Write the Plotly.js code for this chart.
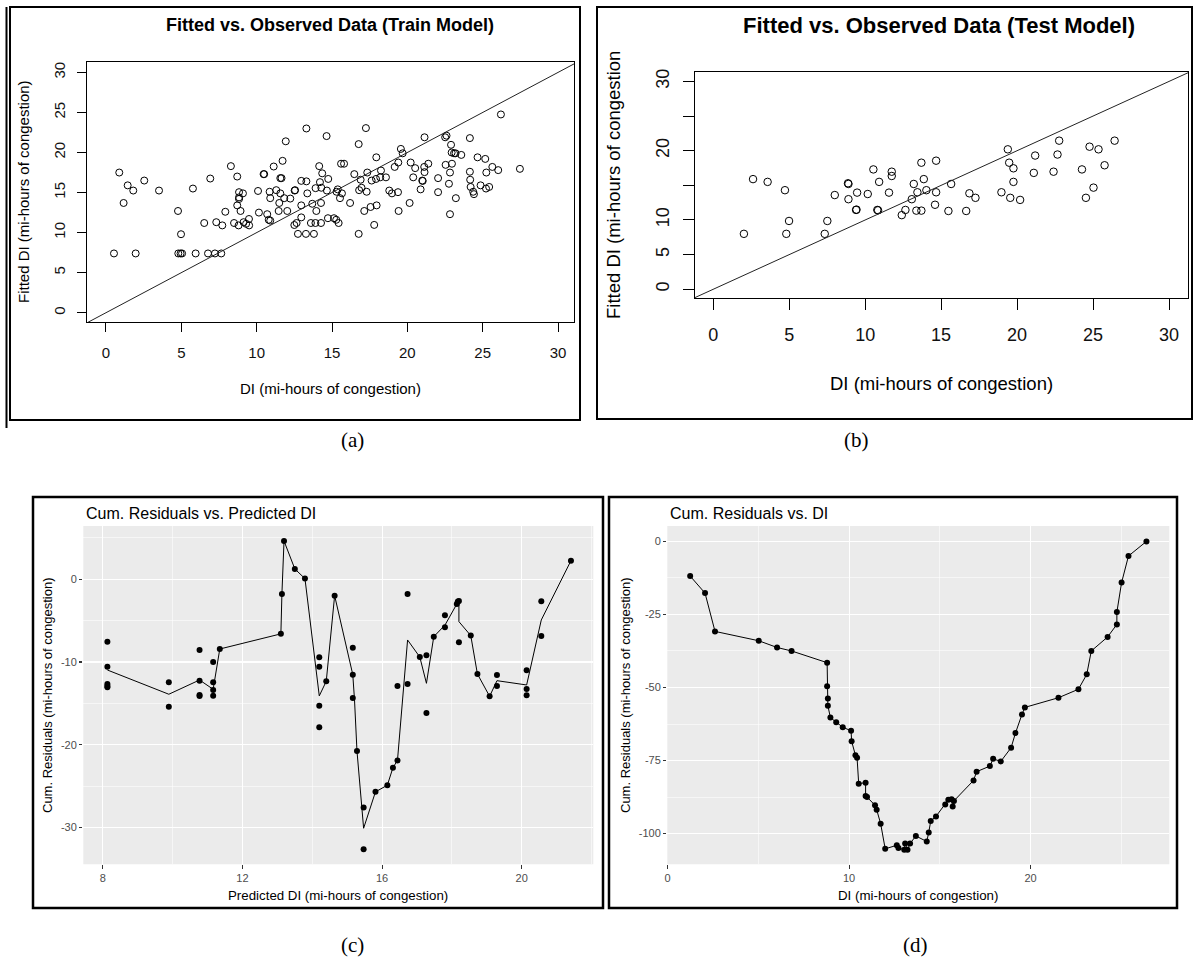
<!DOCTYPE html>
<html>
<head>
<meta charset="utf-8">
<script src="https://cdn.plot.ly/plotly-3.0.1.min.js"></script>
<style>html,body{margin:0;padding:0;background:#fff;}#chart{width:1195px;height:967px;}</style>
</head>
<body>
<div id="chart"></div>
<script>
// ---------- Panel (a): Train model, observed DI vs fitted DI ----------
const trainObserved = [0.88,1.44,1.81,1.17,2.54,3.52,0.53,1.97,4.78,4.98,4.8,4.95,5.05,5.95,5.77,6.77,7.23,7.65,6.92,7.92,6.52,7.32,7.72,8.29,8.71,8.83,9.09,8.83,8.83,8.71,8.93,8.5,8.8,9.13,9.3,9.5,9.49,10.09,10.15,10.7,10.8,10.9,10.46,10.5,11.13,11.72,11.93,13.3,14.64,11.57,11.65,10.86,11.3,11.57,10.9,11.5,11.83,12.23,12.52,12.55,11.46,12.03,12.96,13.3,14.15,14.35,14.75,14.2,13.91,14.29,14.66,13.36,12.96,13.69,14.27,13.96,12.96,12.65,12.5,13.6,13.9,14.27,14.73,12.74,13.27,13.8,
  17.25,16.77,15.6,15.8,16.48,16.9,17.34,17.94,18.25,17.63,17.92,18.2,18.58,15.38,15.66,15.3,15.53,16.8,16.96,17.3,16.2,17.14,17.56,17.96,15.13,15.28,15.44,16.77,17.8,19.42,20.15,18.8,18.98,19.38,19.16,19.4,19.57,19.69,20.22,20.52,20.39,21.12,21.14,21.39,20.99,21.02,20.88,21.14,22.04,22.04,22.51,22.6,22.9,22.94,23.1,23.2,23.58,22.54,22.96,22.83,22.76,23.22,22.83,24.15,24.66,25.17,24.15,24.17,24.2,24.37,24.42,24.86,25.22,25.43,25.24,25.64,26.03,26.21,27.47];
const trainFitted = [17.5,15.9,15.25,13.7,16.5,15.25,7.4,7.4,12.7,9.8,7.4,7.4,7.4,7.4,15.5,7.4,7.4,7.4,16.75,12.6,11.2,11.3,10.9,18.3,17.0,15.05,14.9,14.2,14.4,13.4,12.7,11.2,10.9,11.3,11.1,10.9,11.7,15.2,12.5,12.3,11.6,11.5,17.3,17.3,18.25,18.96,21.4,23.0,22.05,16.8,16.8,15.1,15.3,14.9,14.3,13.7,14.3,14.25,15.25,15.3,12.7,12.7,16.46,16.4,18.3,17.4,16.7,16.3,15.55,15.6,15.25,14.9,13.4,13.6,13.7,12.7,11.9,11.2,10.95,11.2,11.2,11.2,11.8,9.84,9.84,9.84,
  23.05,21.05,18.6,18.6,17.3,16.6,17.5,19.4,17.75,16.5,16.7,16.9,16.9,15.4,14.9,15.1,14.3,15.3,15.6,15.1,13.7,12.7,13.2,13.4,11.8,11.6,11.2,9.84,10.96,12.7,13.7,15.25,14.9,15.05,18.2,18.75,20.45,19.9,18.75,18.05,16.9,18.2,17.55,18.6,16.5,16.45,15.4,21.9,16.8,15.05,21.9,22.1,20.96,20.0,19.9,19.9,19.7,18.46,18.6,17.5,16.1,14.3,12.3,21.8,19.4,19.2,17.6,16.6,15.7,15.1,14.8,15.9,15.5,15.7,17.5,18.2,17.8,24.75,17.96];

// ---------- Panel (b): Test model ----------
const testObserved = [2.02,2.62,3.58,4.72,4.81,4.99,7.34,7.51,8.0,8.87,8.9,8.9,9.47,9.4,9.43,10.17,10.54,10.92,10.8,10.85,11.75,11.75,11.57,12.41,12.65,13.07,13.2,13.44,13.37,13.7,13.86,13.7,14.03,14.67,14.67,14.6,15.48,15.66,16.65,16.86,17.26,18.97,19.55,20.2,19.39,19.48,19.76,19.76,21.19,21.1,22.4,22.66,22.77,24.27,24.53,25.03,24.77,25.36,25.76,26.42];
const testFitted = [8.0,15.9,15.5,14.3,8.0,9.86,8.0,9.86,13.6,15.3,15.2,13.0,13.95,11.45,11.5,13.75,17.3,15.5,11.45,11.4,16.97,16.35,13.95,10.7,11.45,13.0,15.2,14.0,11.35,11.35,15.9,18.27,14.3,18.56,14.0,12.2,11.3,15.2,11.3,13.85,13.2,14.0,13.2,12.9,20.2,18.27,17.46,15.5,19.3,16.8,16.97,19.45,21.45,17.3,13.2,14.67,20.58,20.2,17.9,21.45];

// reference line y = x
const identityLine = [-5, 35];

// ---------- Panel (c): cumulative residuals vs predicted DI ----------
const predDI = [8.13,8.13,8.13,8.13,8.13,9.89,9.89,10.77,10.77,10.77,10.77,11.16,11.16,11.16,11.16,11.35,13.1,13.13,13.19,13.5,13.79,14.2,14.2,14.2,14.2,14.4,14.64,15.16,15.16,15.16,15.28,15.47,15.47,15.81,16.15,16.31,16.44,16.44,16.73,16.73,17.08,17.27,17.27,17.48,17.8,17.8,18.14,18.17,18.2,18.2,18.54,18.73,19.08,19.29,19.29,20.14,20.14,20.14,20.56,20.56,21.41];
const predCumRes = [-7.54,-10.57,-12.66,-12.9,-13.06,-12.46,-15.4,-8.55,-12.26,-14.0,-14.1,-10.0,-12.46,-13.4,-14.07,-8.43,-6.6,-1.78,4.63,1.25,0.08,-9.43,-10.57,-15.28,-17.9,-12.33,-1.98,-8.27,-11.53,-14.35,-20.76,-27.6,-32.65,-25.7,-24.9,-22.78,-21.9,-12.9,-1.78,-12.66,-9.4,-9.2,-16.17,-6.94,-4.36,-5.8,-2.99,-2.7,-2.62,-7.62,-6.81,-11.45,-14.15,-11.57,-12.9,-11.0,-13.26,-14.03,-2.66,-6.86,2.25];
const predLineDI = [8.13,9.89,10.77,11.16,11.35,13.1,13.13,13.19,13.5,13.79,14.2,14.4,14.64,15.16,15.21,15.28,15.47,15.81,16.15,16.31,16.44,16.73,17.08,17.27,17.48,17.8,18.14,18.2,18.2,18.54,18.73,19.08,19.29,20.14,20.56,21.41];
const predLineRes = [-10.97,-13.9,-12.18,-13.3,-8.43,-6.6,-1.78,4.63,1.25,0.08,-14.1,-12.33,-1.98,-11.53,-14.6,-20.76,-30.1,-25.7,-24.9,-22.78,-21.9,-7.34,-9.4,-12.58,-6.94,-5.55,-2.99,-2.62,-5.12,-6.81,-11.45,-14.15,-12.26,-12.78,-4.92,2.25];

// ---------- Panel (d): cumulative residuals vs DI ----------
const obsDI = [1.24,2.06,2.61,5.02,6.03,6.83,8.79,8.79,8.83,8.83,8.97,9.29,9.65,10.11,10.14,10.35,10.44,10.53,10.91,10.91,10.99,11.43,11.52,11.74,11.99,12.63,12.72,13.04,13.09,13.22,13.36,13.68,14.28,14.39,14.5,14.79,15.3,15.47,15.65,15.71,15.78,16.86,17.03,17.76,17.94,18.36,18.93,19.17,19.53,19.69,21.54,22.64,23.1,23.35,24.25,24.76,24.76,25.02,25.4,26.39];
const obsCumRes = [-11.87,-17.7,-30.8,-34.0,-36.3,-37.5,-41.5,-49.6,-53.8,-56.2,-60.3,-61.9,-63.6,-64.8,-68.4,-73.2,-74.0,-82.9,-82.55,-87.1,-87.5,-90.3,-91.8,-96.6,-105.2,-104.0,-104.9,-105.5,-103.4,-105.5,-103.4,-100.8,-102.7,-99.6,-95.7,-94.1,-90.0,-88.4,-88.2,-90.7,-88.8,-81.8,-78.8,-76.9,-74.4,-75.3,-70.6,-65.6,-59.2,-56.8,-53.5,-50.6,-45.5,-37.5,-32.7,-28.4,-24.2,-14.1,-5.0,0.0];

// tick values / labels
const scatterTicks = [0,5,10,15,20,25,30];
const testYTickText = ['0','5','10','','20','','30'];
const predTicks = [8,12,16,20];
const predMinor = [10,14,18,22];
const predYTicks = [-30,-20,-10,0];
const predYTickText = ['-30','-20','-10','0'];
const predYMinor = [-25,-15,-5,5];
const obsTicks = [0,10,20];
const obsMinor = [5,15,25];
const obsYTicks = [-100,-75,-50,-25,0];
const obsYTickText = ['-100','-75','-50','-25','0'];
const obsYMinor = [-87.5,-62.5,-37.5,-12.5];

// ---------- layout helpers (pixel -> paper) ----------
const W = 1195, H = 967;
const fx = p => p / W;
const fy = p => 1 - p / H;
const SANS = 'Liberation Sans, Arial, sans-serif';
const SERIF = 'Liberation Serif, Times New Roman, serif';

const openCircle = size => ({symbol: 'circle-open', size: size, color: '#000', line: {width: 1, color: '#000'}});

const traces = [
  {x: trainObserved, y: trainFitted, xaxis: 'x', yaxis: 'y', type: 'scatter', mode: 'markers', marker: openCircle(7)},
  {x: identityLine, y: identityLine, xaxis: 'x', yaxis: 'y', type: 'scatter', mode: 'lines', line: {color: '#222', width: 1}},
  {x: testObserved, y: testFitted, xaxis: 'x2', yaxis: 'y2', type: 'scatter', mode: 'markers', marker: openCircle(7.5)},
  {x: identityLine, y: identityLine, xaxis: 'x2', yaxis: 'y2', type: 'scatter', mode: 'lines', line: {color: '#222', width: 1}},
  {x: predLineDI, y: predLineRes, xaxis: 'x3', yaxis: 'y3', type: 'scatter', mode: 'lines', line: {color: '#000', width: 1}},
  {x: predDI, y: predCumRes, xaxis: 'x3', yaxis: 'y3', type: 'scatter', mode: 'markers', marker: {color: '#000', size: 6}},
  {x: obsDI, y: obsCumRes, xaxis: 'x4', yaxis: 'y4', type: 'scatter', mode: 'lines+markers', line: {color: '#000', width: 1}, marker: {color: '#000', size: 6}}
];

function baseAxis(domain, range, ticks, size, ticklen) {
  return {
    domain: domain, range: range, tickvals: ticks, ticks: 'outside', ticklen: ticklen, tickwidth: 1,
    tickcolor: '#000', showline: true, mirror: true, linecolor: '#000', linewidth: 1,
    showgrid: false, zeroline: false, tickfont: {family: SANS, size: size, color: '#111'}, fixedrange: true
  };
}
function ggAxis(domain, range, ticks, minor) {
  return {
    domain: domain, range: range, tickvals: ticks, ticks: 'outside', ticklen: 3.3, tickwidth: 1.1,
    tickcolor: '#333', showline: false, showgrid: true, gridcolor: '#fff', gridwidth: 1.1,
    zeroline: false, tickfont: {family: SANS, size: 11, color: '#4d4d4d'}, fixedrange: true,
    minor: {tickvals: minor, showgrid: true, gridcolor: '#fff', gridwidth: 0.55, ticks: ''}
  };
}

const layout = {
  width: W, height: H, margin: {l: 0, r: 0, t: 0, b: 0},
  paper_bgcolor: '#fff', plot_bgcolor: '#fff', showlegend: false,
  xaxis: Object.assign(baseAxis([fx(87), fx(574)], [-1.26, 31.06], scatterTicks, 15, 9), {anchor: 'y', ticklabelstandoff: 8}),
  yaxis: Object.assign(baseAxis([fy(322), fy(62)], [-1.16, 31.3], scatterTicks, 15, 9), {anchor: 'x', tickangle: -90, ticklabelstandoff: 6}),
  xaxis2: Object.assign(baseAxis([fx(695), fx(1188)], [-1.2, 31.25], scatterTicks, 18, 11), {anchor: 'y2', ticklabelstandoff: 9}),
  yaxis2: Object.assign(baseAxis([fy(298), fy(72)], [-1.26, 31.36], scatterTicks, 18, 11), {anchor: 'x2', tickangle: -90, ticktext: testYTickText, ticklabelstandoff: 7}),
  xaxis3: Object.assign(ggAxis([fx(83.3), fx(593.3)], [7.44, 22.05], predTicks, predMinor), {anchor: 'y3'}),
  yaxis3: Object.assign(ggAxis([fy(864.3), fy(526)], [-34.46, 6.44], predYTicks, predYMinor), {anchor: 'x3', ticktext: predYTickText}),
  xaxis4: Object.assign(ggAxis([fx(667.3), fx(1169.3)], [-0.02, 27.65], obsTicks, obsMinor), {anchor: 'y4'}),
  yaxis4: Object.assign(ggAxis([fy(864.3), fy(526)], [-110.5, 5.27], obsYTicks, obsYMinor), {anchor: 'x4', ticktext: obsYTickText}),
  shapes: [
    {type: 'rect', xref: 'x3 domain', yref: 'y3 domain', x0: 0, x1: 1, y0: 0, y1: 1, fillcolor: '#ebebeb', line: {width: 0}, layer: 'below'},
    {type: 'rect', xref: 'x4 domain', yref: 'y4 domain', x0: 0, x1: 1, y0: 0, y1: 1, fillcolor: '#ebebeb', line: {width: 0}, layer: 'below'},
    {type: 'rect', xref: 'paper', yref: 'paper', x0: fx(10), x1: fx(580), y0: fy(420), y1: fy(7), line: {color: '#000', width: 2}},
    {type: 'line', xref: 'paper', yref: 'paper', x0: fx(6.5), x1: fx(6.5), y0: fy(428), y1: fy(7), line: {color: '#000', width: 2}},
    {type: 'rect', xref: 'paper', yref: 'paper', x0: fx(597), x1: fx(1192), y0: fy(419), y1: fy(7), line: {color: '#000', width: 2}},
    {type: 'rect', xref: 'paper', yref: 'paper', x0: fx(33), x1: fx(603), y0: fy(908), y1: fy(497), line: {color: '#000', width: 2.5}},
    {type: 'rect', xref: 'paper', yref: 'paper', x0: fx(609), x1: fx(1177), y0: fy(908), y1: fy(497), line: {color: '#000', width: 2.5}}
  ],
  annotations: []
};

function txt(text, px, py, size, opts) {
  return Object.assign({
    text: text, xref: 'paper', yref: 'paper', x: fx(px), y: fy(py), showarrow: false,
    xanchor: 'center', yanchor: 'middle', font: {family: SANS, size: size, color: '#000'}
  }, opts || {});
}
const serifFont = {font: {family: SERIF, size: 21, color: '#000'}};

layout.annotations.push(
  txt('<b>Fitted vs. Observed Data (Train Model)</b>', 330, 25, 18),
  txt('DI (mi-hours of congestion)', 330, 388, 15),
  txt('Fitted DI (mi-hours of congestion)', 23, 192, 15, {textangle: -90}),
  txt('<b>Fitted vs. Observed Data (Test Model)</b>', 939, 25, 22),
  txt('DI (mi-hours of congestion)', 941, 383, 18.5),
  txt('Fitted DI (mi-hours of congestion', 613, 185, 18.5, {textangle: -90}),
  txt('Cum. Residuals vs. Predicted DI', 84, 513, 16, {xanchor: 'left'}),
  txt('Predicted DI (mi-hours of congestion)', 338, 895, 13.3),
  txt('Cum. Residuals (mi-hours of congestion)', 47, 695, 13, {textangle: -90}),
  txt('Cum. Residuals vs. DI', 668, 513, 16, {xanchor: 'left'}),
  txt('DI (mi-hours of congestion)', 918, 895, 13.3),
  txt('Cum. Residuals (mi-hours of congestion)', 625, 695, 13, {textangle: -90}),
  txt('(a)', 352, 440, 21, serifFont),
  txt('(b)', 856, 440, 21, serifFont),
  txt('(c)', 352, 945, 21, serifFont),
  txt('(d)', 915, 945, 21, serifFont)
);

Plotly.newPlot('chart', traces, layout, {staticPlot: true, displayModeBar: false});
</script>
</body>
</html>
